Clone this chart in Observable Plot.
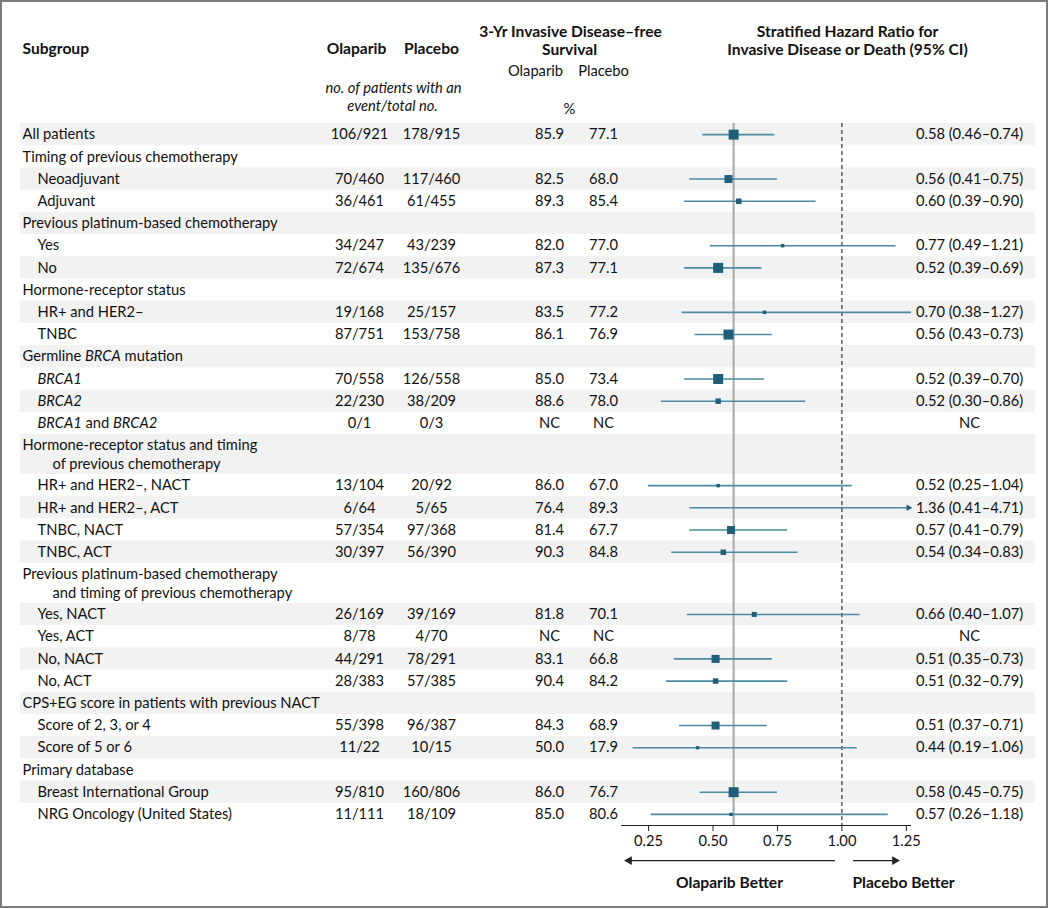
<!DOCTYPE html>
<html><head><meta charset="utf-8">
<script src="https://cdn.jsdelivr.net/npm/d3@7"></script>
<script src="https://cdn.jsdelivr.net/npm/@observablehq/plot@0.6"></script>
<style>
body{margin:0;background:#fff;}
#wrap{position:relative;width:1050px;height:909px;}
#border{position:absolute;left:0;top:0;width:1048px;height:908px;border:2px solid #7a7a7a;box-sizing:border-box;pointer-events:none;}
svg{display:block}
</style></head><body><div id="wrap"><div id="chart"></div><div id="border"></div></div>
<script>
// ---------- data ----------
const labels = [
  "All patients",
  "Timing of previous chemotherapy",
  "Neoadjuvant",
  "Adjuvant",
  "Previous platinum-based chemotherapy",
  "Yes",
  "No",
  "Hormone-receptor status",
  "HR+ and HER2–",
  "TNBC",
  "Germline *BRCA* mutation",
  "*BRCA1*",
  "*BRCA2*",
  "*BRCA1* and *BRCA2*",
  "Hormone-receptor status and timing",
  "HR+ and HER2–, NACT",
  "HR+ and HER2–, ACT",
  "TNBC, NACT",
  "TNBC, ACT",
  "Previous platinum-based chemotherapy",
  "Yes, NACT",
  "Yes, ACT",
  "No, NACT",
  "No, ACT",
  "CPS+EG score in patients with previous NACT",
  "Score of 2, 3, or 4",
  "Score of 5 or 6",
  "Primary database",
  "Breast International Group",
  "NRG Oncology (United States)"
];
const continuation = [null,null,null,null,null,null,null,null,null,null,null,null,null,null,
  "of previous chemotherapy",null,null,null,null,
  "and timing of previous chemotherapy",null,null,null,null,null,null,null,null,null,null];
const levels = [0,0,1,1,0,1,1,0,1,1,0,1,1,1,0,1,1,1,1,0,1,1,1,1,0,1,1,0,1,1];
const olaparibEvents = [106,null,70,36,null,34,72,null,19,87,null,70,22,0,null,13,6,57,30,null,26,8,44,28,null,55,11,null,95,11];
const olaparibTotal  = [921,null,460,461,null,247,674,null,168,751,null,558,230,1,null,104,64,354,397,null,169,78,291,383,null,398,22,null,810,111];
const placeboEvents  = [178,null,117,61,null,43,135,null,25,153,null,126,38,0,null,20,5,97,56,null,39,4,78,57,null,96,10,null,160,18];
const placeboTotal   = [915,null,460,455,null,239,676,null,157,758,null,558,209,3,null,92,65,368,390,null,169,70,291,385,null,387,15,null,806,109];
const olaparibPct = [85.9,null,82.5,89.3,null,82.0,87.3,null,83.5,86.1,null,85.0,88.6,"NC",null,86.0,76.4,81.4,90.3,null,81.8,"NC",83.1,90.4,null,84.3,50.0,null,86.0,85.0];
const placeboPct  = [77.1,null,68.0,85.4,null,77.0,77.1,null,77.2,76.9,null,73.4,78.0,"NC",null,67.0,89.3,67.7,84.8,null,70.1,"NC",66.8,84.2,null,68.9,17.9,null,76.7,80.6];
const hazardRatio = [0.58,null,0.56,0.60,null,0.77,0.52,null,0.70,0.56,null,0.52,0.52,"NC",null,0.52,1.36,0.57,0.54,null,0.66,"NC",0.51,0.51,null,0.51,0.44,null,0.58,0.57];
const ciLower = [0.46,null,0.41,0.39,null,0.49,0.39,null,0.38,0.43,null,0.39,0.30,null,null,0.25,0.41,0.41,0.34,null,0.40,null,0.35,0.32,null,0.37,0.19,null,0.45,0.26];
const ciUpper = [0.74,null,0.75,0.90,null,1.21,0.69,null,1.27,0.73,null,0.70,0.86,null,null,1.04,4.71,0.79,0.83,null,1.07,null,0.73,0.79,null,0.71,1.06,null,0.75,1.18];
const weights = [10,null,8,5.5,null,3.5,10,null,3.5,10,null,10,5.5,null,null,3.5,3.5,8,5.5,null,5,null,8,5.5,null,8,3.3,null,10,3.3];
const xTicks = [0.25, 0.50, 0.75, 1.00, 1.25];
const overallHR = 0.58;
const nullHR = 1.0;

// ---------- layout ----------
const xDomain = [0.145, 1.27];
const f2 = d3.format(".2f"), f1 = d3.format(".1f");
let acc = 0;
const rows = labels.map((label, i) => {
  const h = continuation[i] ? 1.8 : 1;
  const r = {
    i, label, cont: continuation[i], level: levels[i], top: acc, h,
    mid: acc + h / 2,
    line1: continuation[i] ? acc + 0.47 : acc + 0.5,
    line2: acc + 1.33,
    oe: olaparibEvents[i], ot: olaparibTotal[i], pe: placeboEvents[i], pt: placeboTotal[i],
    op: olaparibPct[i], pp: placeboPct[i], hr: hazardRatio[i], lo: ciLower[i], hi: ciUpper[i], w: weights[i]
  };
  acc += h;
  return r;
});
const total = acc;
const dataRows = rows.filter(d => d.oe != null);
const ciRows = dataRows.filter(d => d.lo != null);
const pct = v => typeof v === "number" ? f1(v) : v;
const hrText = d => typeof d.hr === "number" ? `${f2(d.hr)} (${f2(d.lo)}–${f2(d.hi)})` : d.hr;

const sq = "#1f5f79", ln = "#4b8aa1", ink = "#111";
const BODY = 14.7, BOLD = 15.6;
const base = {fill: ink, frameAnchor: "left", lineAnchor: "middle", fontSize: BODY};
const hdr = (t, dx, dy, opts = {}) => Plot.text([t], {text: d => d, frameAnchor: "top-left", dx, dy, textAnchor: "middle", lineAnchor: "middle", fill: ink, fontSize: BODY, ...opts});
const bold = {fontWeight: "bold", fontSize: BOLD};

const chart = Plot.plot({
  width: 1050, height: 909,
  marginLeft: 0, marginRight: 0, marginTop: 0, marginBottom: 84,
  style: {fontFamily: "Lato, 'Open Sans', sans-serif", fontSize: BODY + "px", color: ink, background: "transparent"},
  x: {type: "linear", domain: xDomain, range: [621, 911], axis: null, label: null},
  y: {type: "linear", domain: [0, total], range: [123, 825], axis: null, label: null},
  r: {type: "linear", domain: [0, 10], range: [0, 5.64]},
  marks: [
    Plot.rect(rows.filter(d => d.i % 2 === 0), {y1: "top", y2: d => d.top + d.h, fill: "#f2f2f2", insetLeft: 20, insetRight: 15}),
    Plot.ruleX([overallHR], {y1: 0, y2: total, stroke: "#a8a8a8", strokeWidth: 2}),
    Plot.ruleX([nullHR], {y1: 0, y2: total, stroke: "#333", strokeWidth: 1.2, strokeDasharray: "4,3"}),
    Plot.ruleY(ciRows, {y: "mid", x1: d => Math.max(d.lo, xDomain[0]), x2: d => Math.min(d.hi, xDomain[1]) , stroke: ln, strokeWidth: 1.6}),
    Plot.dot(ciRows.filter(d => d.hi > xDomain[1] + 0.05), {x: () => xDomain[1], y: "mid", symbol: "triangle", rotate: 90, r: 2.4, fill: sq, dx: -3}),
    Plot.dot(ciRows.filter(d => d.hr <= xDomain[1]), {x: "hr", y: "mid", r: "w", symbol: "square", fill: sq}),
    // axis
    Plot.ruleY([total], {x1: xDomain[0], x2: xDomain[1], stroke: "#222", strokeWidth: 1.2}),
    Plot.axisX(xTicks, {anchor: "bottom", label: null, tickSize: 6, tickPadding: 4, tickFormat: ".2f", fontSize: BODY, stroke: "#222"}),
    // direction arrows
    Plot.ruleY([total + 1.58], {x1: nullHR - 0.025, x2: xDomain[0] + 0.03, stroke: "#222", strokeWidth: 1.3}),
    Plot.ruleY([total + 1.58], {x1: nullHR + 0.045, x2: nullHR + 0.2, stroke: "#222", strokeWidth: 1.3}),
    Plot.dot([total + 1.58], {x: () => xDomain[0] + 0.03, y: d => d, symbol: "triangle", rotate: -90, r: 3.3, fill: "#222"}),
    Plot.dot([total + 1.58], {x: () => nullHR + 0.205, y: d => d, symbol: "triangle", rotate: 90, r: 3.3, fill: "#222"}),
    // row labels
    Plot.text(rows.filter(d => d.level === 0), {...base, y: "line1", text: "label", dx: 22, textAnchor: "start"}),
    Plot.text(rows.filter(d => d.level === 1), {...base, y: "line1", text: "label", dx: 37, textAnchor: "start"}),
    Plot.text(rows.filter(d => d.cont), {...base, y: "line2", text: "cont", dx: 52, textAnchor: "start"}),
    Plot.text(dataRows, {...base, y: "mid", text: d => `${d.oe}/${d.ot}`, dx: 359, textAnchor: "middle"}),
    Plot.text(dataRows, {...base, y: "mid", text: d => `${d.pe}/${d.pt}`, dx: 431, textAnchor: "middle"}),
    Plot.text(dataRows, {...base, y: "mid", text: d => pct(d.op), dx: 549, textAnchor: "middle"}),
    Plot.text(dataRows, {...base, y: "mid", text: d => pct(d.pp), dx: 603, textAnchor: "middle"}),
    Plot.text(dataRows, {...base, y: "mid", text: hrText, dx: 969, textAnchor: "middle"}),
    // headers
    hdr("Subgroup", 22, 48, {textAnchor: "start", ...bold}),
    hdr("Olaparib", 356, 48, bold),
    hdr("Placebo", 431, 48, bold),
    hdr("3-Yr Invasive Disease–free", 570, 31, bold),
    hdr("Survival", 569, 49, bold),
    hdr("Olaparib", 535, 71),
    hdr("Placebo", 603, 71),
    hdr("%", 569, 109),
    hdr("no. of patients with an", 393, 88, {fontStyle: "italic"}),
    hdr("event/total no.", 392, 106, {fontStyle: "italic"}),
    hdr("Stratified Hazard Ratio for", 847, 31, bold),
    hdr("Invasive Disease or Death (95% CI)", 847, 49, bold),
    hdr("Olaparib Better", 729, 882, bold),
    hdr("Placebo Better", 903, 882, bold)
  ]
});

// italic gene names (marked with *...*)
const NS = "http://www.w3.org/2000/svg";
d3.select(chart).selectAll("text").each(function () {
  const t = this.textContent;
  if (this.children.length === 0 && t.includes("*")) {
    const parts = t.split("*");
    this.textContent = "";
    parts.forEach((p, k) => {
      if (!p) return;
      const ts = document.createElementNS(NS, "tspan");
      ts.textContent = p;
      if (k % 2) ts.setAttribute("font-style", "italic");
      this.appendChild(ts);
    });
  }
});
document.getElementById("chart").appendChild(chart);
</script></body></html>
